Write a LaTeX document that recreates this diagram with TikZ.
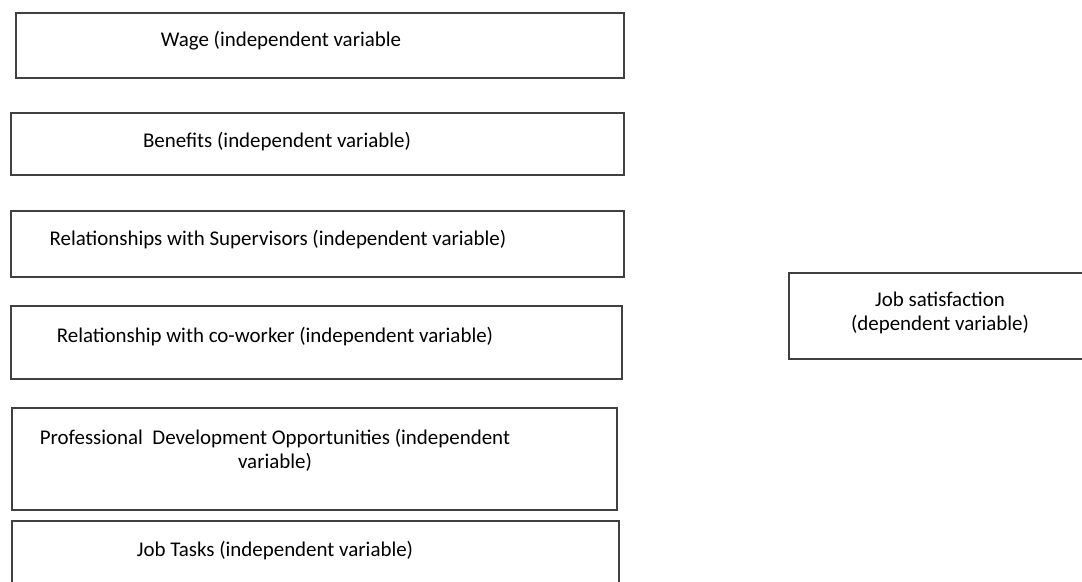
\documentclass[tikz,border=0pt]{standalone}
\usepackage{fontspec}
\setmainfont{Carlito}
\usetikzlibrary{fit}

\begin{document}
\begin{tikzpicture}[x=0.75pt,y=-0.75pt,
	box/.style={draw=black!75,line width=1.2pt,inner sep=0,outer sep=0},
	lbl/.style={anchor=base,inner sep=0,align=center,font=\fontsize{15.7}{18}\selectfont}]
	\useasboundingbox (0,0) rectangle (1082,582);
	\clip (0,0) rectangle (1082,582);
	% boxes of the independent variables
	\node[box,fit={(16,13) (624,78)}] (wage) {};
	\node[box,fit={(11,113) (624,175)}] (benefits) {};
	\node[box,fit={(11,211) (624,277)}] (supervisors) {};
	\node[box,fit={(11,306) (622,379)}] (coworker) {};
	\node[box,fit={(12,408) (617,510)}] (profdev) {};
	\node[box,fit={(12,521) (619,600)}] (jobtasks) {};
	% box of the dependent variable
	\node[box,fit={(789,273) (1100,359)}] (satisfaction) {};
	% texts (base = last line)
	\node[lbl] (wagetxt) at (281,46) {Wage (independent variable};
	\node[lbl] (benefitstxt) at (277,147) {Benefits (independent variable)};
	\node[lbl] (supervisorstxt) at (278,245) {Relationships with Supervisors (independent variable)};
	\node[lbl] (coworkertxt) at (275,342) {Relationship with co-worker (independent variable)};
	\node[lbl] (profdevtxt) at (275,468) {Professional~ Development Opportunities (independent\\variable)};
	\node[lbl] (jobtaskstxt) at (275,556) {Job Tasks (independent variable)};
	\node[lbl] (satisfactiontxt) at (940,330) {Job satisfaction\\(dependent variable)};
\end{tikzpicture}
\end{document}
